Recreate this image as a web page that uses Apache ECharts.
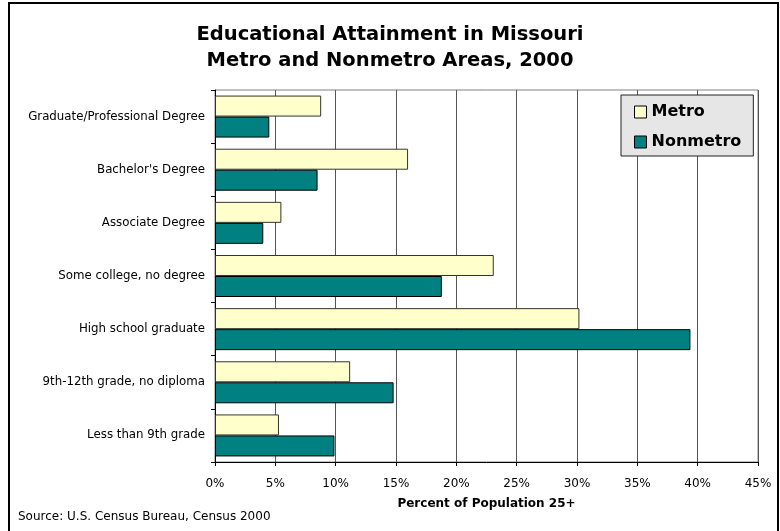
<!DOCTYPE html>
<html>
<head>
<meta charset="utf-8">
<script src="https://cdn.jsdelivr.net/npm/echarts@6/dist/echarts.min.js"></script>
<style>
  html, body { margin: 0; padding: 0; background: #fff; }
  #chart { width: 780px; height: 531px; }
</style>
</head>
<body>
<div id="chart"></div>
<script>
// Educational attainment, population 25+, Missouri 2000 (percent)
const categories = [
  'Graduate/Professional Degree',
  "Bachelor's Degree",
  'Associate Degree',
  'Some college, no degree',
  'High school graduate',
  '9th-12th grade, no diploma',
  'Less than 9th grade'
];
const metroValues    = [8.8, 16.0, 5.5, 23.1, 30.2, 11.2, 5.3];
const nonmetroValues = [4.5, 8.5, 4.0, 18.8, 39.4, 14.8, 9.9];
const seriesNames = ['Metro', 'Nonmetro'];
const xTicks = { min: 0, max: 45, interval: 5 };

const FONT = '"DejaVu Sans", Verdana, sans-serif';

const chart = echarts.init(document.getElementById('chart'), null, { renderer: 'canvas' });

chart.setOption({
  animation: false,
  backgroundColor: '#ffffff',
  title: {
    text: 'Educational Attainment in Missouri\nMetro and Nonmetro Areas, 2000',
    left: 'center',
    top: 22,
    padding: 0,
    textStyle: {
      fontFamily: FONT,
      fontWeight: 'bold',
      fontSize: 19.5,
      lineHeight: 26,
      color: '#000'
    }
  },
  legend: {
    data: seriesNames,
    orient: 'vertical',
    left: 621,
    top: 95,
    width: 133,
    padding: [9, 12, 6, 13],
    itemGap: 14,
    itemWidth: 12,
    itemHeight: 12,
    icon: 'rect',
    backgroundColor: '#e6e6e6',
    borderColor: '#222',
    borderWidth: 1,
    itemStyle: { borderColor: '#000', borderWidth: 1 },
    textStyle: {
      fontFamily: FONT,
      fontWeight: 'bold',
      fontSize: 16,
      color: '#000',
      padding: [0, 0, 0, 0]
    }
  },
  grid: {
    left: 215,
    right: 22,
    top: 90,
    bottom: 69,
    show: true,
    borderColor: '#808080',
    borderWidth: 1,
    containLabel: false
  },
  xAxis: {
    type: 'value',
    min: xTicks.min,
    max: xTicks.max,
    interval: xTicks.interval,
    name: 'Percent of Population 25+',
    nameLocation: 'middle',
    nameGap: 36,
    nameTextStyle: {
      fontFamily: FONT,
      fontWeight: 'bold',
      fontSize: 12,
      color: '#000'
    },
    axisLine: { show: true, lineStyle: { color: '#000', width: 1 } },
    axisTick: { show: true, length: 4, lineStyle: { color: '#000' } },
    axisLabel: {
      margin: 16,
      fontFamily: FONT,
      fontSize: 12,
      color: '#000',
      formatter: v => v + '%'
    },
    splitLine: { show: true, lineStyle: { color: '#555', width: 1 } }
  },
  yAxis: {
    type: 'category',
    data: categories,
    inverse: true,
    axisLine: { show: true, lineStyle: { color: '#000', width: 1 } },
    axisTick: { show: true, length: 4, lineStyle: { color: '#000' } },
    axisLabel: {
      margin: 10,
      fontFamily: FONT,
      fontSize: 11.8,
      color: '#000'
    },
    splitLine: { show: false }
  },
  series: [
    {
      name: seriesNames[0],
      type: 'bar',
      data: metroValues,
      barWidth: 21,
      barGap: '0%',
      itemStyle: { color: '#ffffcc', borderColor: '#333', borderWidth: 1 }
    },
    {
      name: seriesNames[1],
      type: 'bar',
      data: nonmetroValues,
      barWidth: 21,
      barGap: '0%',
      itemStyle: { color: '#008080', borderColor: '#000', borderWidth: 1 }
    }
  ],
  graphic: [
    {
      type: 'rect',
      shape: { x: 9, y: 3, width: 769, height: 540 },
      style: { fill: 'none', stroke: '#000', lineWidth: 2 },
      silent: true
    },
    {
      type: 'text',
      left: 18,
      top: 511,
      style: {
        text: 'Source: U.S. Census Bureau, Census 2000',
        fontFamily: FONT,
        fontSize: 12,
        fill: '#000'
      }
    }
  ]
});
</script>
</body>
</html>
